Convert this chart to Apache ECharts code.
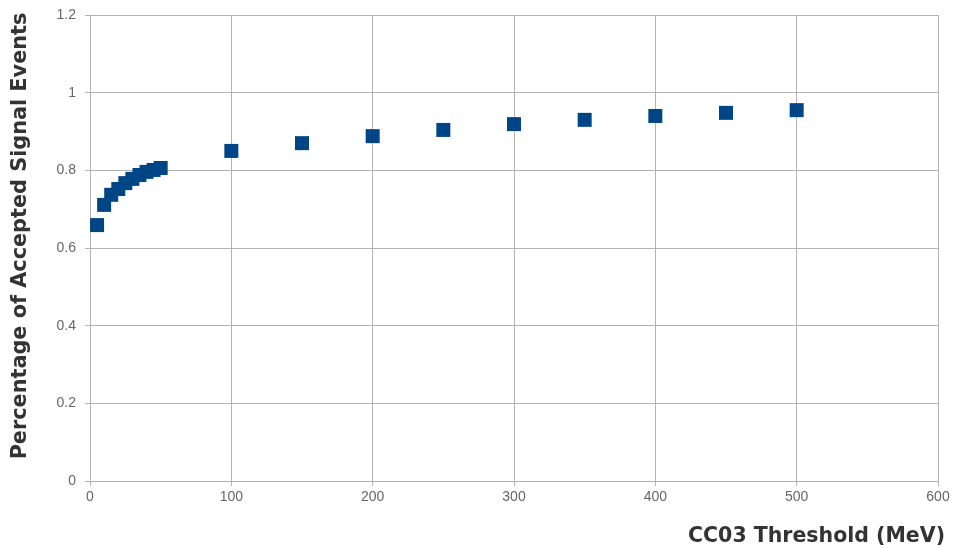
<!DOCTYPE html>
<html><head><meta charset="utf-8">
<script src="https://cdn.jsdelivr.net/npm/echarts@6/dist/echarts.min.js"></script>
<style>html,body{margin:0;padding:0;background:#fff}#c{width:953px;height:548px}</style>
</head><body><div id="c"></div>
<script>
const thresholds = [5,10,15,20,25,30,35,40,45,50,100,150,200,250,300,350,400,450,500];
const accepted = [0.659,0.711,0.737,0.752,0.767,0.778,0.788,0.796,0.801,0.806,0.850,0.870,0.888,0.904,0.919,0.930,0.940,0.948,0.955];
const xTitle = 'CC03 Threshold (MeV)';
const yTitle = 'Percentage of Accepted Signal Events';

const chart = echarts.init(document.getElementById('c'));
const gridLine = {show:true, lineStyle:{color:'#b3b3b3', width:1}};
const axisLine = {show:true, lineStyle:{color:'#b3b3b3', width:1}};
chart.setOption({
  animation:false,
  grid:{left:90, right:15, top:15, bottom:67},
  xAxis:{type:'value', min:0, max:600, interval:100,
    name:xTitle, nameLocation:'end', nameGap:7,
    nameTextStyle:{fontFamily:'DejaVu Sans', fontWeight:'bold', fontSize:20.5, color:'#333', align:'right', verticalAlign:'top', padding:[45,0,0,0]},
    axisLine:axisLine, axisTick:{show:true, length:5, lineStyle:{color:'#b3b3b3'}},
    splitLine:gridLine,
    axisLabel:{fontFamily:'Liberation Sans', fontSize:14, color:'#666', margin:9}},
  yAxis:{type:'value', min:0, max:1.2, interval:0.2,
    name:yTitle, nameLocation:'middle', nameGap:59, nameRotate:90,
    nameTextStyle:{fontFamily:'DejaVu Sans', fontWeight:'bold', fontSize:20.8, color:'#333', padding:[0,0,0,24]},
    axisLine:axisLine, axisTick:{show:true, length:5, lineStyle:{color:'#b3b3b3'}},
    splitLine:gridLine,
    axisLabel:{fontFamily:'Liberation Sans', fontSize:14, color:'#666', margin:14, formatter:v=>String(+v.toFixed(1))}},
  series:[{type:'scatter', symbol:'rect', symbolSize:14,
    itemStyle:{color:'#004586', opacity:1},
    data:thresholds.map((t,i)=>[t,accepted[i]])}]
});
</script></body></html>
